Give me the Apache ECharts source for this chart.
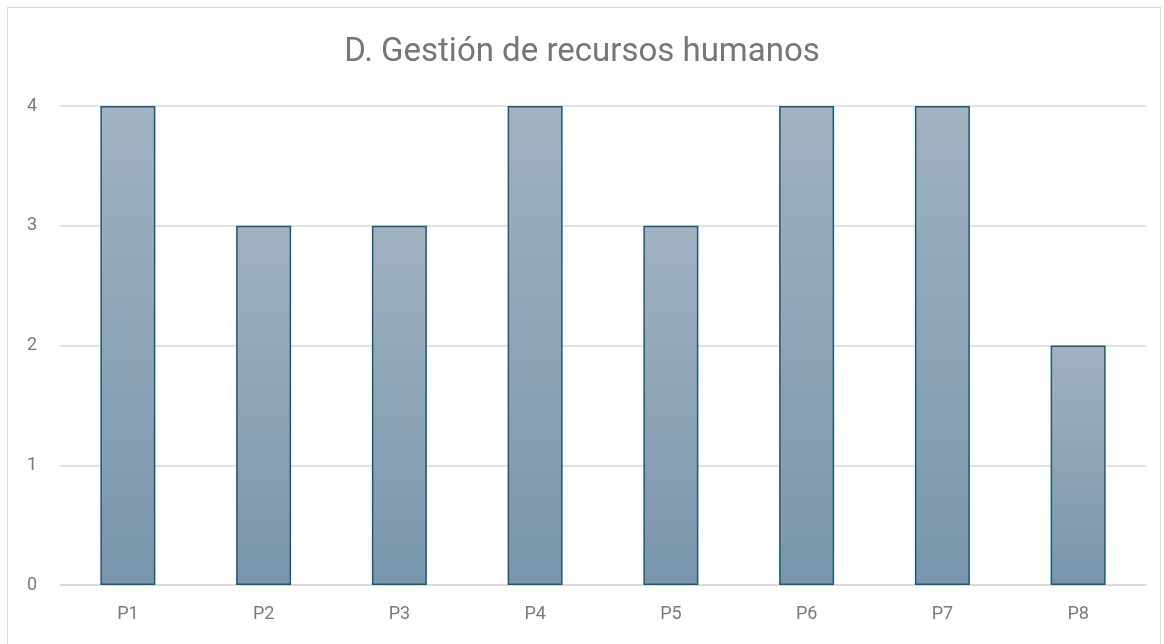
<!DOCTYPE html>
<html>
<head>
<meta charset="utf-8">
<script src="https://cdn.jsdelivr.net/npm/echarts@6/dist/echarts.min.js"></script>
<style>
html, body { margin: 0; padding: 0; background: #fff; }
#frame { position: absolute; left: 7px; top: 7px; width: 1154px; height: 640px; border: 1px solid #d9d9d9; box-sizing: border-box; }
#main { position: absolute; left: 0; top: 0; width: 1164px; height: 644px; }
</style>
</head>
<body>
<div id="frame"></div>
<div id="main"></div>
<script>
// datos del gráfico
var categorias = ['P1', 'P2', 'P3', 'P4', 'P5', 'P6', 'P7', 'P8'];
var valores = [4, 3, 3, 4, 3, 4, 4, 2];
var titulo = 'D. Gestión de recursos humanos';

var main = echarts.init(document.getElementById('main'));
var option = {
    title: {
        text: titulo,
        left: 'center',
        top: 31,
        textStyle: {
            fontFamily: 'Roboto',
            fontSize: 33,
            fontWeight: 'normal',
            color: '#767676'
        }
    },
    grid: {
        left: 60,
        right: 18,
        top: 106,
        bottom: 59
    },
    xAxis: {
        type: 'category',
        data: categorias,
        axisTick: { show: false },
        axisLine: { lineStyle: { color: '#d9d9d9', width: 1.5 } },
        axisLabel: {
            margin: 20,
            fontFamily: 'Roboto',
            fontSize: 18,
            color: '#7a7a7a'
        }
    },
    yAxis: {
        type: 'value',
        min: 0,
        max: 4,
        interval: 1,
        axisLine: { show: false },
        axisTick: { show: false },
        splitLine: { lineStyle: { color: '#d9d9d9', width: 1.5 } },
        axisLabel: {
            margin: 23,
            fontFamily: 'Roboto',
            fontSize: 18,
            color: '#7a7a7a'
        }
    },
    series: [
        {
            name: titulo,
            type: 'bar',
            barWidth: 55,
            data: valores,
            itemStyle: {
                color: new echarts.graphic.LinearGradient(0, 0, 0, 1, [
                    { offset: 0, color: '#a1b2c0' },
                    { offset: 1, color: '#7996ac' }
                ]),
                borderColor: '#1d5878',
                borderWidth: 1.5
            }
        }
    ]
};
main.setOption(option);
</script>
</body>
</html>
